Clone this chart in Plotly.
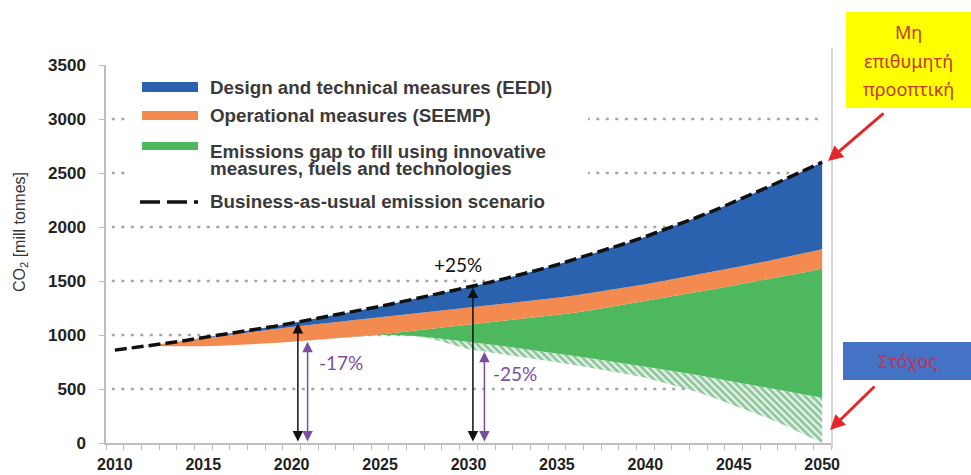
import plotly.graph_objects as go

# ---------------- data ----------------
years = list(range(2010, 2051))

# Business-as-usual emission scenario (top of blue band)
bau = [860, 880, 900, 925, 950, 975, 1000, 1025, 1055, 1080,
       1110, 1140, 1170, 1200, 1235, 1265, 1300, 1335, 1370, 1405,
       1440, 1480, 1520, 1560, 1605, 1650, 1700, 1750, 1800, 1855,
       1910, 1970, 2030, 2095, 2160, 2230, 2300, 2375, 2450, 2525, 2600]

# lower edge of EEDI band (= top of SEEMP band)
eedi_low = [860, 880, 900, 925, 950, 975, 993, 1012, 1035, 1055,
            1075, 1092, 1110, 1127, 1145, 1162, 1180, 1197, 1215, 1232,
            1250, 1268, 1286, 1305, 1325, 1345, 1365, 1390, 1415, 1442,
            1470, 1500, 1530, 1560, 1590, 1622, 1655, 1688, 1722, 1757, 1795]

# lower edge of SEEMP band (= top of emissions gap band)
seemp_low = [860, 880, 900, 895, 893, 895, 900, 907, 915, 925,
             937, 950, 963, 977, 990, 1005, 1023, 1042, 1062, 1081,
             1100, 1117, 1134, 1151, 1169, 1187, 1205, 1232, 1259, 1287,
             1315, 1343, 1371, 1400, 1429, 1458, 1488, 1519, 1550, 1582, 1615]

# lower edge of the solid emissions gap band (= top of hatched band)
gap_low = [860, 880, 900, 895, 893, 895, 900, 907, 915, 925,
           937, 950, 963, 977, 990, 1000, 998, 990, 975, 957,
           937, 917, 896, 875, 853, 830, 806, 782, 758, 734,
           710, 683, 655, 627, 598, 570, 540, 510, 480, 450, 420]

# lower edge of the hatched band
hatch_low = [860, 880, 900, 895, 893, 895, 900, 907, 915, 925,
             937, 950, 963, 977, 990, 1000, 998, 990, 960, 912,
             868, 845, 822, 798, 773, 748, 722, 695, 666, 636,
             604, 560, 515, 470, 410, 350, 290, 225, 155, 80, 0]

y_ticks = [0, 500, 1000, 1500, 2000, 2500, 3000, 3500]
grid_vals = [500, 1000, 1500, 2000, 2500, 3000]
x_ticks = [2010, 2015, 2020, 2025, 2030, 2035, 2040, 2045, 2050]

legend_texts = ["Design and technical measures (EEDI)",
                "Operational measures (SEEMP)",
                "Emissions gap to fill using innovative",
                "measures, fuels and technologies",
                "Business-as-usual emission scenario"]

# ---------------- styling ----------------
BLUE = "#2B62AF"
ORANGE = "#F38A4F"
GREEN = "#4DB85E"
PURPLE = "#7B4F9D"
RED = "#E5262A"
GRID = "#A5A5A5"
AXIS = "#BDBDBD"
BOLD = "Liberation Sans, Arial, sans-serif"
SOFT = "Lato, Noto Sans, sans-serif"

W, H = 971, 475
L, R, T, B = 106, 831, 65, 443


def P(xpx, ypx):
    return (xpx - L) / (R - L), (B - ypx) / (B - T)


fig = go.Figure()

# hatched band (hatch_low -> gap_low)
fig.add_trace(go.Scatter(x=years, y=hatch_low, mode="lines", line=dict(width=0),
                         showlegend=False, hoverinfo="skip"))
fig.add_trace(go.Scatter(x=years, y=gap_low, mode="lines", line=dict(width=0),
                         fill="tonexty", fillcolor="#E8F5EA",
                         fillpattern=dict(shape="\\", fgcolor="#389554", bgcolor="#E8F5EA",
                                          size=5, solidity=0.55),
                         showlegend=False, hoverinfo="skip"))
# green gap band
fig.add_trace(go.Scatter(x=years, y=seemp_low, mode="lines", line=dict(width=0),
                         fill="tonexty", fillcolor=GREEN, showlegend=False, hoverinfo="skip"))
# orange SEEMP band
fig.add_trace(go.Scatter(x=years, y=eedi_low, mode="lines", line=dict(width=0),
                         fill="tonexty", fillcolor=ORANGE, showlegend=False, hoverinfo="skip"))
# blue EEDI band
fig.add_trace(go.Scatter(x=years, y=bau, mode="lines", line=dict(width=0),
                         fill="tonexty", fillcolor=BLUE, showlegend=False, hoverinfo="skip"))
# BAU dashed line
fig.add_trace(go.Scatter(x=years, y=bau, mode="lines",
                         line=dict(color="#111111", width=3.5, dash="12px,5px"),
                         showlegend=False, hoverinfo="skip"))

shapes = []
# dotted gridlines
for v in grid_vals:
    shapes.append(dict(type="line", xref="paper", x0=0.008, x1=0.985, yref="y", y0=v, y1=v,
                       line=dict(color=GRID, width=2.5, dash="3px,6.5px"), layer="below"))
# legend background
x0, y0 = P(128, 214)
x1, y1 = P(588, 72)
shapes.append(dict(type="rect", xref="paper", yref="paper", x0=x0, x1=x1, y0=y0, y1=y1,
                   fillcolor="white", line=dict(width=0), layer="below"))
# legend swatches
for (ya, yb), col in zip([(82, 92), (111, 120), (142, 150)], [BLUE, ORANGE, GREEN]):
    a0, b0 = P(142, yb)
    a1, b1 = P(198, ya)
    shapes.append(dict(type="rect", xref="paper", yref="paper", x0=a0, x1=a1, y0=b0, y1=b1,
                       fillcolor=col, line=dict(width=0), layer="above"))
a0, b0 = P(140, 202)
a1, _ = P(198, 202)
shapes.append(dict(type="line", xref="paper", yref="paper", x0=a0, x1=a1, y0=b0, y1=b0,
                   line=dict(color="#111111", width=3.5, dash="20px,7px"), layer="above"))
# right border line
a0, b0 = P(832, 448)
_, b1 = P(832, 48)
shapes.append(dict(type="line", xref="paper", yref="paper", x0=a0, x1=a0, y0=b0, y1=b1,
                   line=dict(color="#C8C8C8", width=1.5), layer="above"))
# yellow box
a0, b0 = P(846, 108)
a1, b1 = P(971, 12)
shapes.append(dict(type="rect", xref="paper", yref="paper", x0=a0, x1=a1, y0=b0, y1=b1,
                   fillcolor="#FFFF00", line=dict(width=0), layer="above"))
# blue target box
a0, b0 = P(843, 380)
a1, b1 = P(971, 342)
shapes.append(dict(type="rect", xref="paper", yref="paper", x0=a0, x1=a1, y0=b0, y1=b1,
                   fillcolor="#4472C4", line=dict(width=0), layer="above"))

annotations = []
# legend texts
for txt, ypx in zip(legend_texts, [87, 116, 151, 168, 201]):
    ax_, ay_ = P(208, ypx)
    annotations.append(dict(x=ax_, y=ay_, xref="paper", yref="paper", text=txt, showarrow=False,
                            xanchor="left", yanchor="middle",
                            font=dict(family=BOLD, size=18.8, color="#3A3A3A", weight="bold")))
# y-axis title
tx, ty = P(21, 232)
annotations.append(dict(x=tx, y=ty, xref="paper", yref="paper", text="CO<sub>2</sub> [mill tonnes]",
                        showarrow=False, textangle=-90, xanchor="center", yanchor="middle",
                        font=dict(family=BOLD, size=16, color="#333333")))

# vertical double arrows (data coordinates)
arrow_specs = [(2020.35, bau[10], "#111111"), (2020.9, seemp_low[10], PURPLE),
               (2030.25, bau[20], "#111111"), (2030.9, hatch_low[21], PURPLE)]
for xa, ytop, col in arrow_specs:
    annotations.append(dict(x=xa, y=ytop, ax=xa, ay=0, xref="x", yref="y", axref="x", ayref="y",
                            text="", showarrow=True, arrowhead=2, arrowside="end+start",
                            arrowsize=1.4, arrowwidth=1.5, arrowcolor=col, standoff=0, startstandoff=0))

# percentage labels
for txt, xp, yp, col in [("+25%", 458, 264, "#111111"), ("-17%", 341, 362, PURPLE),
                         ("-25%", 515, 373, PURPLE)]:
    a, b = P(xp, yp)
    annotations.append(dict(x=a, y=b, xref="paper", yref="paper", text=txt, showarrow=False,
                            xanchor="center", yanchor="middle",
                            font=dict(family=SOFT, size=19, color=col)))

# Greek boxes text
for txt, yp in zip(["Μη", "επιθυμητή", "προοπτική"], [32, 61, 89]):
    a, b = P(908, yp)
    annotations.append(dict(x=a, y=b, xref="paper", yref="paper", text=txt, showarrow=False,
                            xanchor="center", yanchor="middle",
                            font=dict(family="Noto Sans, sans-serif", size=18, color="#C0392B")))
a, b = P(907, 361)
annotations.append(dict(x=a, y=b, xref="paper", yref="paper", text="Στόχος", showarrow=False,
                        xanchor="center", yanchor="middle",
                        font=dict(family="Noto Sans, sans-serif", size=18, color="#C0345A")))

# red arrows
for (hx, hy), (tx_, ty_) in [((828, 161), (885, 112)), ((830, 430), (876, 385))]:
    a, b = P(hx, hy)
    annotations.append(dict(x=a, y=b, xref="paper", yref="paper", ax=tx_ - hx, ay=ty_ - hy,
                            text="", showarrow=True, arrowhead=2, arrowsize=1, arrowwidth=3,
                            arrowcolor=RED, standoff=0))

fig.update_layout(
    width=W, height=H,
    margin=dict(l=L, r=W - R, t=T, b=H - B, autoexpand=False),
    plot_bgcolor="white", paper_bgcolor="white",
    showlegend=False,
    shapes=shapes, annotations=annotations,
    xaxis=dict(range=[2009.5, 2050.5], tickmode="array", tickvals=x_ticks,
               ticktext=[str(v) for v in x_ticks], ticks="", showgrid=False, zeroline=False,
               showline=True, linecolor=AXIS, linewidth=1.5, automargin=False,
               tickfont=dict(family=BOLD, size=16, color="#222222", weight="bold"),
               ticklabelstandoff=6,
               minor=dict(ticks="outside", tick0=2009.5, dtick=1, ticklen=5,
                          tickcolor=AXIS, tickwidth=1, showgrid=False)),
    yaxis=dict(range=[0, 3500], tickmode="array", tickvals=y_ticks, ticks="outside", ticklen=5,
               tickcolor=AXIS, showline=True, linecolor=AXIS, linewidth=1.5, showgrid=False,
               zeroline=False, ticklabelstandoff=10, automargin=False,
               tickfont=dict(family=BOLD, size=17, color="#222222", weight="bold")),
)

fig.write_html("out.html", config={"displayModeBar": False},
               post_script="document.body.style.margin='0px';document.body.style.overflow='hidden';")
